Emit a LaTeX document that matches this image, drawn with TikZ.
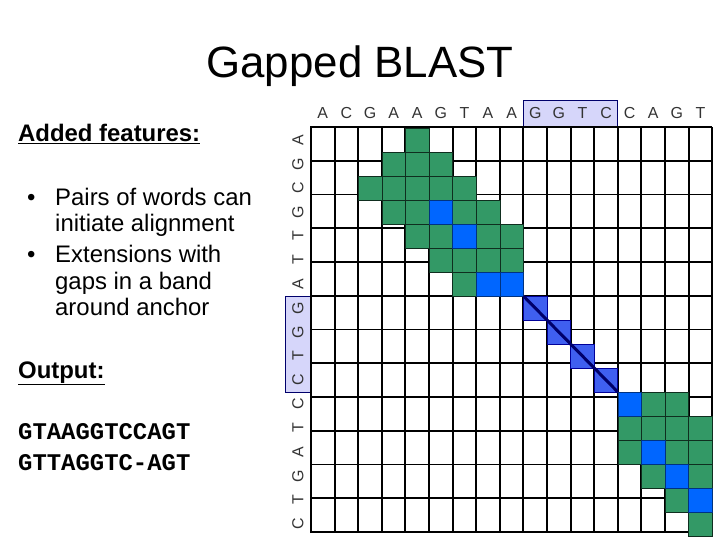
\documentclass[tikz,border=0pt]{standalone}
\usepackage{fontspec}
\setmainfont{Liberation Sans}
\newfontfamily\seqmono{Liberation Mono}
\usetikzlibrary{positioning}

\definecolor{cellgreen}{HTML}{339966}
\definecolor{cellblue}{HTML}{0066FF}
\definecolor{diagblue}{HTML}{3F5FF0}
\definecolor{diagedge}{HTML}{000099}
\definecolor{seqbox}{HTML}{D6D6FA}

\tikzset{
  gcell/.style={fill=cellgreen, draw=black!70!cellgreen, line width=0.6pt},
  bcell/.style={fill=cellblue, draw=black!50!cellblue, line width=0.6pt},
  dcell/.style={fill=diagblue, draw=diagedge, line width=0.9pt},
  seqlbl/.style={font=\fontsize{16}{16}\selectfont, text=black!80, inner sep=0pt},
  bodytxt/.style={font=\fontsize{24}{26}\selectfont, anchor=base west, inner sep=0pt},
}

\begin{document}
\begin{tikzpicture}[x=1bp, y=-1bp]
\useasboundingbox (0,0) rectangle (720,540);

% title and text on the left
\node (title) at (360,66) {\fontsize{44}{44}\selectfont Gapped BLAST};
\node[bodytxt] (feat) at (18,142) {\bfseries\underline{Added features:}};
\node[bodytxt] (b1) at (27,206) {•};
\node[bodytxt] (p1) at (55,206) {Pairs of words can};
\node[bodytxt] (p2) at (55,232) {initiate alignment};
\node[bodytxt] (b2) at (27,263) {•};
\node[bodytxt] (p3) at (55,263) {Extensions with};
\node[bodytxt] (p4) at (55,289) {gaps in a band};
\node[bodytxt] (p5) at (55,315) {around anchor};
\node[bodytxt] (out) at (18,378) {\bfseries\underline{Output:}};
\node[bodytxt] (s1) at (18,439) {\seqmono\bfseries GTAAGGTCCAGT};
\node[bodytxt] (s2) at (18,470) {\seqmono\bfseries GTTAGGTC-AGT};

% boxes round the anchor word
\draw[fill=seqbox, draw=diagedge!70!black, line width=0.8pt] (523.4,100) rectangle (617.8,127);
\draw[fill=seqbox, draw=diagedge!70!black, line width=0.8pt] (285,296) rectangle (311,392);

% grid
\foreach \i in {0,...,17}
  \draw[line width=2pt] ({311+23.6*\i},127) -- ({311+23.6*\i},532);
\foreach \j in {0,...,12}
  \draw[line width=2pt] (311,{127+33.75*\j}) -- (712,{127+33.75*\j});
\draw[line width=3pt] (311,533) -- (311,127) -- (712,127);

% cells
\foreach \c/\r in {4/0,3/1,4/1,5/1,2/2,3/2,4/2,5/2,6/2,3/3,4/3,6/3,7/3,
                   4/4,5/4,7/4,8/4,5/5,6/5,7/5,8/5,6/6,
                   14/11,15/11,13/12,14/12,15/12,16/12,13/13,15/13,16/13,
                   14/14,16/14,15/15,16/16}
  \draw[gcell] ({311+23.6*\c},{128+24*\r}) rectangle ++(23.6,24);
\foreach \c/\r in {5/3,6/4,7/6,8/6,13/11,14/13,15/14,16/15}
  \draw[bcell] ({311+23.6*\c},{128+24*\r}) rectangle ++(23.6,24);
\foreach \c/\r in {9/7,10/8,11/9,12/10}
  \draw[dcell] ({311+23.6*\c},{128+24*\r}) rectangle ++(23.6,24);
\coordinate (d0) at (523.4,296);
\coordinate (d1) at (617.8,392);
\draw[line width=3pt, diagedge!70!black] (d0) -- (d1);

% sequence letters
\foreach \l [count=\i from 0] in {A,C,G,A,A,G,T,A,A,G,G,T,C,C,A,G,T}
  \node[seqlbl] (top\i) at ({311+23.6*(\i+0.5)},113.5) {\l};
\foreach \l [count=\j from 0] in {A,G,C,G,T,T,A,G,G,T,C,C,T,A,G,T,C}
  \node[seqlbl, rotate=90] (left\j) at (298,{128+24*(\j+0.5)}) {\l};
\end{tikzpicture}
\end{document}
